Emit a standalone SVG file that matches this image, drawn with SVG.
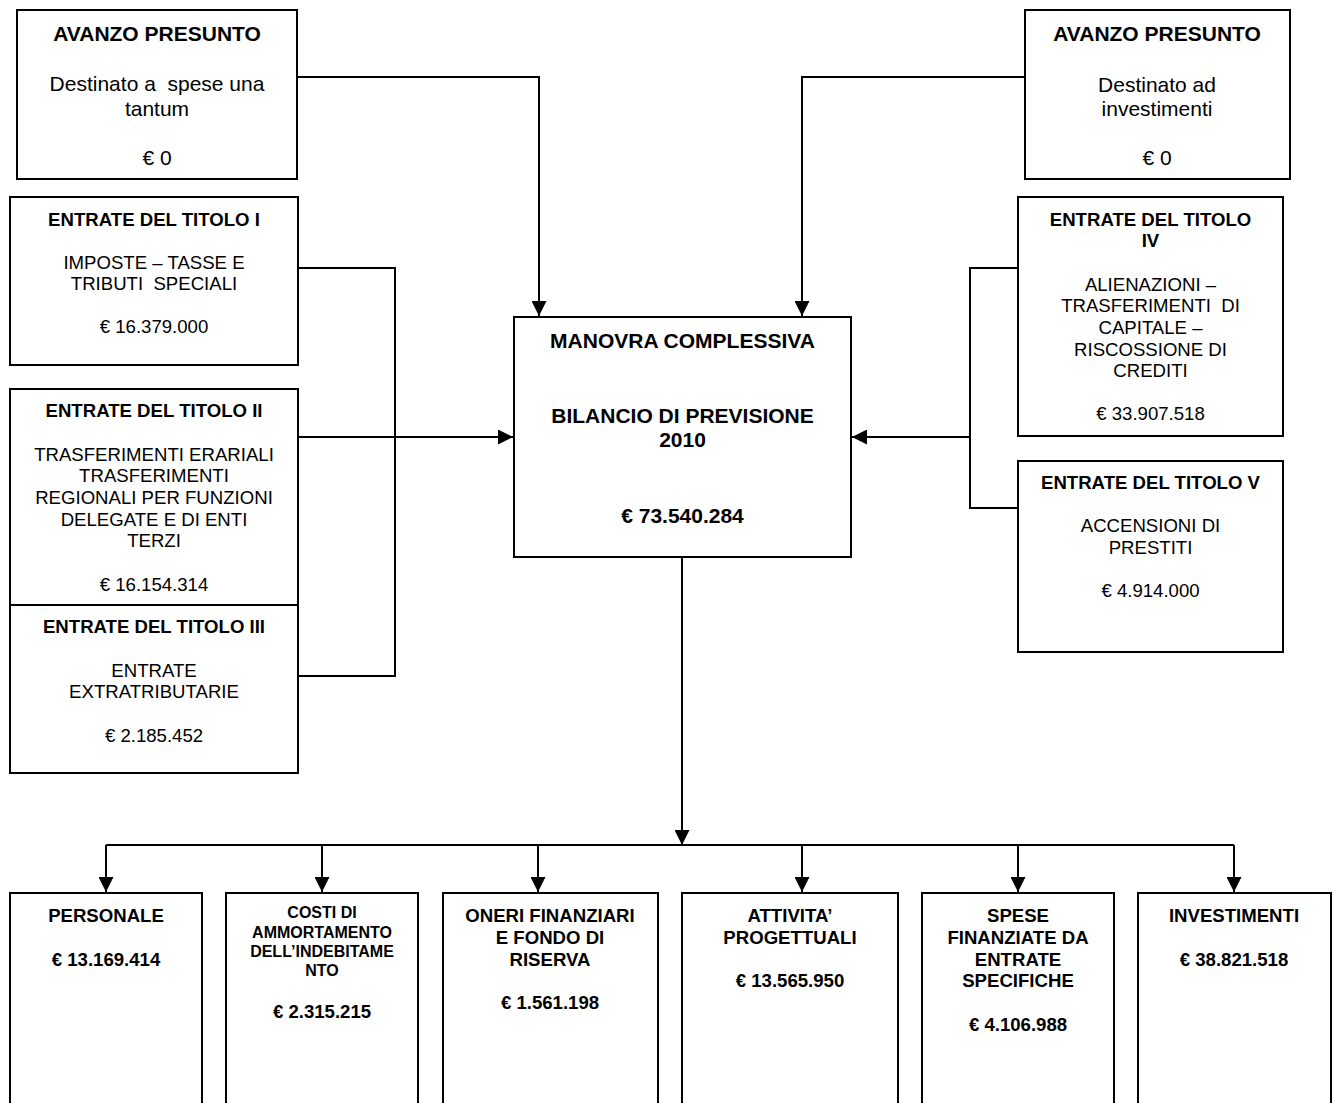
<svg xmlns="http://www.w3.org/2000/svg" width="1334" height="1103" viewBox="0 0 1334 1103">
<style>
rect.box{fill:#fff;stroke:#000;stroke-width:2}
text{font-family:"Liberation Sans",Arial,sans-serif;fill:#000;text-anchor:middle;white-space:pre}
.b{font-weight:bold}
.L{font-size:21px}
.S{font-size:18.6px}
.X{font-size:16px}
.c{fill:none;stroke:#000;stroke-width:2}
</style>
<defs>
<marker id="arr" markerWidth="15" markerHeight="15" refX="15" refY="7.5" orient="auto" markerUnits="userSpaceOnUse"><path d="M0,0 L15,7.5 L0,15 z" fill="#000"/></marker>
</defs>
<rect width="1334" height="1103" fill="#fff"/>
<g id="connectors">
<path class="c" d="M297,77 H539 V316" marker-end="url(#arr)"/>
<path class="c" d="M1025,77 H802 V316" marker-end="url(#arr)"/>
<path class="c" d="M298,268 H395 V676 H298"/>
<path class="c" d="M298,437 H513" marker-end="url(#arr)"/>
<path class="c" d="M1018,268 H970 V508 H1018"/>
<path class="c" d="M970,437 H852" marker-end="url(#arr)"/>
<path class="c" d="M682,557 V845" marker-end="url(#arr)"/>
<path class="c" d="M106,845 H1234"/>
<path class="c" d="M106,845 V892" marker-end="url(#arr)"/>
<path class="c" d="M322,845 V892" marker-end="url(#arr)"/>
<path class="c" d="M538,845 V892" marker-end="url(#arr)"/>
<path class="c" d="M802,845 V892" marker-end="url(#arr)"/>
<path class="c" d="M1018,845 V892" marker-end="url(#arr)"/>
<path class="c" d="M1234,845 V892" marker-end="url(#arr)"/>
</g>
<g id="avanzo-sx">
<rect class="box" x="17" y="10" width="280" height="169"/>
<text class="L b" x="157" y="41">AVANZO PRESUNTO</text>
<text class="L" x="157" y="91">Destinato a  spese una</text>
<text class="L" x="157" y="116">tantum</text>
<text class="L" x="157" y="165">€ 0</text>
</g>
<g id="avanzo-dx">
<rect class="box" x="1025" y="10" width="265" height="169"/>
<text class="L b" x="1157" y="41">AVANZO PRESUNTO</text>
<text class="L" x="1157" y="92">Destinato ad</text>
<text class="L" x="1157" y="116">investimenti</text>
<text class="L" x="1157" y="165">€ 0</text>
</g>
<g id="titolo-1">
<rect class="box" x="10" y="197" width="288" height="168"/>
<text class="S b" x="154" y="226">ENTRATE DEL TITOLO I</text>
<text class="S" x="154" y="269">IMPOSTE – TASSE E</text>
<text class="S" x="154" y="290">TRIBUTI  SPECIALI</text>
<text class="S" x="154" y="333">€ 16.379.000</text>
</g>
<g id="titolo-2">
<rect class="box" x="10" y="389" width="288" height="216"/>
<text class="S b" x="154" y="417">ENTRATE DEL TITOLO II</text>
<text class="S" x="154" y="461">TRASFERIMENTI ERARIALI</text>
<text class="S" x="154" y="482">TRASFERIMENTI</text>
<text class="S" x="154" y="504">REGIONALI PER FUNZIONI</text>
<text class="S" x="154" y="526">DELEGATE E DI ENTI</text>
<text class="S" x="154" y="547">TERZI</text>
<text class="S" x="154" y="591">€ 16.154.314</text>
</g>
<g id="titolo-3">
<rect class="box" x="10" y="605" width="288" height="168"/>
<text class="S b" x="154" y="633">ENTRATE DEL TITOLO III</text>
<text class="S" x="154" y="677">ENTRATE</text>
<text class="S" x="154" y="698">EXTRATRIBUTARIE</text>
<text class="S" x="154" y="742">€ 2.185.452</text>
</g>
<g id="manovra">
<rect class="box" x="514" y="317" width="337" height="240"/>
<text class="L b" x="682.500" y="348">MANOVRA COMPLESSIVA</text>
<text class="L b" x="682.500" y="423">BILANCIO DI PREVISIONE</text>
<text class="L b" x="682.500" y="447">2010</text>
<text class="L b" x="682.500" y="523">€ 73.540.284</text>
</g>
<g id="titolo-4">
<rect class="box" x="1018" y="197" width="265" height="239"/>
<text class="S b" x="1150.500" y="226">ENTRATE DEL TITOLO</text>
<text class="S b" x="1150.500" y="247">IV</text>
<text class="S" x="1150.500" y="291">ALIENAZIONI –</text>
<text class="S" x="1150.500" y="312">TRASFERIMENTI  DI</text>
<text class="S" x="1150.500" y="334">CAPITALE –</text>
<text class="S" x="1150.500" y="356">RISCOSSIONE DI</text>
<text class="S" x="1150.500" y="377">CREDITI</text>
<text class="S" x="1150.500" y="420">€ 33.907.518</text>
</g>
<g id="titolo-5">
<rect class="box" x="1018" y="461" width="265" height="191"/>
<text class="S b" x="1150.500" y="489">ENTRATE DEL TITOLO V</text>
<text class="S" x="1150.500" y="532">ACCENSIONI DI</text>
<text class="S" x="1150.500" y="554">PRESTITI</text>
<text class="S" x="1150.500" y="597">€ 4.914.000</text>
</g>
<g id="personale">
<rect class="box" x="10" y="893" width="192" height="220"/>
<text class="S b" x="106" y="922">PERSONALE</text>
<text class="S b" x="106" y="966">€ 13.169.414</text>
</g>
<g id="ammortamento">
<rect class="box" x="226" y="893" width="192" height="220"/>
<text class="X b" x="322" y="918">COSTI DI</text>
<text class="X b" x="322" y="938">AMMORTAMENTO</text>
<text class="X b" x="322" y="957">DELL’INDEBITAME</text>
<text class="X b" x="322" y="976">NTO</text>
<text class="S b" x="322" y="1018">€ 2.315.215</text>
</g>
<g id="oneri">
<rect class="box" x="443" y="893" width="215" height="220"/>
<text class="S b" x="550" y="922">ONERI FINANZIARI</text>
<text class="S b" x="550" y="944">E FONDO DI</text>
<text class="S b" x="550" y="966">RISERVA</text>
<text class="S b" x="550" y="1009">€ 1.561.198</text>
</g>
<g id="attivita">
<rect class="box" x="682" y="893" width="216" height="220"/>
<text class="S b" x="790" y="922">ATTIVITA’</text>
<text class="S b" x="790" y="944">PROGETTUALI</text>
<text class="S b" x="790" y="987">€ 13.565.950</text>
</g>
<g id="spese">
<rect class="box" x="922" y="893" width="192" height="220"/>
<text class="S b" x="1018" y="922">SPESE</text>
<text class="S b" x="1018" y="944">FINANZIATE DA</text>
<text class="S b" x="1018" y="966">ENTRATE</text>
<text class="S b" x="1018" y="987">SPECIFICHE</text>
<text class="S b" x="1018" y="1031">€ 4.106.988</text>
</g>
<g id="investimenti">
<rect class="box" x="1138" y="893" width="193" height="220"/>
<text class="S b" x="1234" y="922">INVESTIMENTI</text>
<text class="S b" x="1234" y="966">€ 38.821.518</text>
</g>
</svg>
